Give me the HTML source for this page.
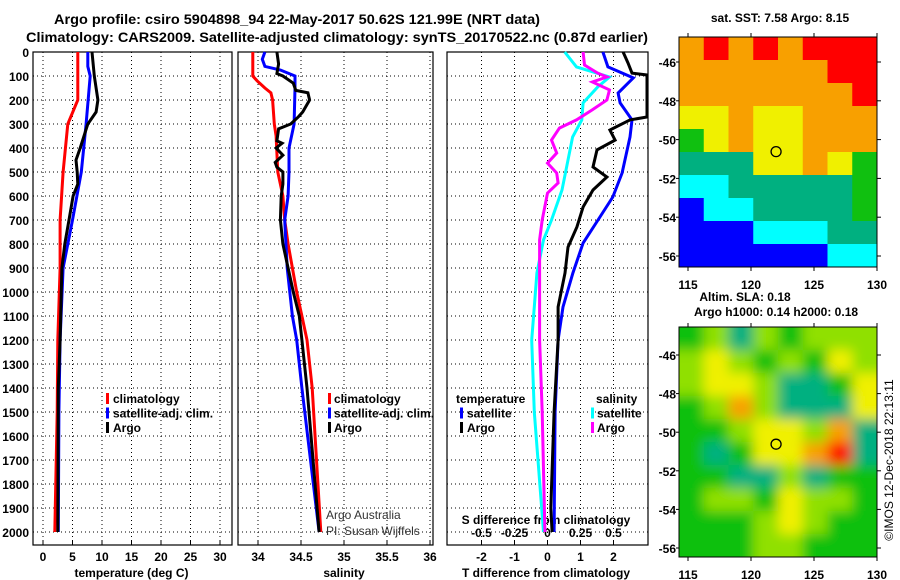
<!DOCTYPE html>
<html><head><meta charset="utf-8"><style>
html,body{margin:0;padding:0;background:#fff;}
svg{display:block;font-family:"Liberation Sans",sans-serif;}
.b{font-weight:bold;font-size:12px;}
</style></head><body>
<svg id="c" width="900" height="580" viewBox="0 0 900 580" xmlns="http://www.w3.org/2000/svg">
<defs>
<filter id="blur" x="0" y="0" width="100%" height="100%"><feGaussianBlur stdDeviation="6"/></filter>
<clipPath id="m2clip"><rect x="679" y="327" width="198" height="230"/></clipPath>
</defs>
<text x="297" y="24" text-anchor="middle" font-size="14" font-weight="bold" textLength="486" lengthAdjust="spacingAndGlyphs">Argo profile: csiro 5904898_94 22-May-2017 50.62S 121.99E (NRT data)</text>
<text x="337" y="42" text-anchor="middle" font-size="14" font-weight="bold" textLength="622" lengthAdjust="spacingAndGlyphs">Climatology: CARS2009. Satellite-adjusted climatology: synTS_20170522.nc (0.87d earlier)</text>
<g id="g"></g>
</svg>
<script>
// ---- depth axis
const depthTicks = [0,100,200,300,400,500,600,700,800,900,1000,1100,1200,1300,1400,1500,1600,1700,1800,1900,2000];
// ---- temperature panel data
const tTicks = [0,5,10,15,20,25,30];
const tClimD = [0,200,300,500,700,900,1200,1500,2000];
const tClimV = [5.9,5.9,4.2,3.4,2.9,2.9,2.5,2.4,2.0];
const tSatD = [0,60,100,300,500,700,900,1200,1500,2000];
const tSatV = [7.6,7.6,8.0,7.3,6.5,5.0,3.4,2.9,2.7,2.6];
const tArgoD = [0,100,200,250,300,400,450,500,550,600,700,800,900,1000,1200,1400,2000];
const tArgoV = [8.3,8.7,9.3,9.0,7.6,6.3,5.6,5.8,5.9,5.1,4.4,3.7,3.2,3.1,2.9,2.6,2.5];
// ---- salinity panel data
const sTicks = [34,34.5,35,35.5,36];
const sClimD = [0,100,120,150,170,200,300,350,500,600,700,800,900,1000,1100,1200,1400,2000];
const sClimV = [33.94,33.94,33.99,34.08,34.15,34.17,34.19,34.21,34.23,34.29,34.31,34.35,34.40,34.45,34.51,34.57,34.63,34.73];
const sSatD = [0,30,60,75,100,150,300,400,500,600,700,900,1100,1200,1400,2000];
const sSatV = [34.08,34.05,34.08,34.26,34.43,34.43,34.42,34.36,34.36,34.35,34.31,34.34,34.40,34.45,34.51,34.71];
const sArgoD = [0,50,90,100,130,160,170,200,250,270,300,320,370,380,400,430,460,480,500,550,600,700,800,900,1000,1100,1200,1400,2000];
const sArgoV = [34.22,34.24,34.22,34.29,34.41,34.44,34.58,34.60,34.52,34.47,34.38,34.24,34.22,34.28,34.21,34.29,34.20,34.22,34.29,34.29,34.27,34.26,34.29,34.35,34.41,34.48,34.51,34.57,34.71];
// ---- difference panel data
const dTicks = [-2,-1,0,1,2];
const dSTickLabels = ["-0.5","-0.25","0","0.25","0.5"];
const dTSatD = [0,62,108,171,212,283,354,504,604,700,796,921,1062,1200,1500,2000];
const dTSatV = [1.68,1.83,2.6,2.14,2.2,2.56,2.5,2.26,1.98,1.53,1.08,0.77,0.47,0.32,0.23,0.2];
const dTArgoD = [0,46,88,96,158,271,283,325,367,408,479,521,575,646,729,813,921,1062,1200,1500,1900,2000];
const dTArgoV = [2.29,2.44,2.56,3.05,3.05,3.05,2.5,1.89,2.05,1.5,1.38,1.8,1.38,1.08,0.89,0.62,0.53,0.32,0.32,0.2,0.1,0.14];
const dSSatD = [0,62,104,146,212,283,354,438,575,700,783,921,1062,1200,1500,2000];
const dSSatV = [0.13,0.22,0.47,0.38,0.27,0.26,0.19,0.16,0.11,0.03,-0.03,-0.08,-0.10,-0.12,-0.10,-0.03];
const dSArgoD = [0,54,88,104,125,158,200,241,283,317,367,421,463,504,546,588,700,783,1062,1200,1500,2000];
const dSArgoV = [0.27,0.28,0.38,0.45,0.34,0.47,0.45,0.34,0.22,0.09,0.03,0.07,0.0,0.07,0.08,0.0,-0.04,-0.06,-0.06,-0.06,-0.04,-0.02];
// ---- maps (category codes per coarse cell)
const lonTicks = [115,120,125,130];
const latTicks = [-46,-48,-50,-52,-54,-56];
const sstGrid = [
[6,7,6,7,6,7,7,7],
[6,6,6,6,6,6,7,7],
[6,6,6,6,6,6,6,7],
[5,5,6,5,5,6,6,6],
[4,5,6,5,5,6,6,6],
[3,3,3,5,5,6,5,4],
[2,2,3,3,3,3,3,4],
[1,2,2,3,3,3,3,4],
[1,1,1,2,2,2,3,3],
[1,1,1,1,1,1,2,2]];
const slaGrid = [
[4,8,3,8,4,8,8,8],
[8,5,8,4,8,4,5,8],
[8,5,5,8,3,3,4,5],
[4,8,6,8,3,3,3,5],
[4,4,8,5,5,8,6,3],
[4,3,4,5,5,6,7,3],
[4,4,3,3,8,3,4,4],
[4,8,8,4,5,8,8,4],
[4,4,4,8,5,8,4,4],
[4,4,4,8,8,4,4,4]];
const palette = ["#000000","#0000ff","#00ffff","#00b080","#10c010","#f0f000","#f8a000","#ff0000","#90e000"];

const NS="http://www.w3.org/2000/svg";
const G=document.getElementById('g');
function mk(t,a,parent){const e=document.createElementNS(NS,t);for(const k in a)e.setAttribute(k,a[k]);(parent||G).appendChild(e);return e;}
const pTop=52, pBot=545;
const yD=d=>52+d*0.24;
const panels=[{x0:33,x1:232},{x0:238,x1:433},{x0:447,x1:648}];
const xT=v=>43+v*5.9, xS=v=>258+(v-34)*86, xDT=v=>547.5+v*33, xDS=v=>547.5+v*132;

function frame(p,name){
  const r=mk('rect',{x:p.x0,y:pTop,width:p.x1-p.x0,height:pBot-pTop,fill:'none',stroke:'#000','stroke-width':1.2});
  
  
  depthTicks.forEach(d=>{
    const l=mk('line',{x1:p.x0,x2:p.x1,y1:yD(d),y2:yD(d),stroke:'#000','stroke-width':1,'stroke-dasharray':'1,3'});
    
    
  });
}
function vgrid(p,vals,fx,labels,name){
  vals.forEach((v,i)=>{
    const x=fx(v);
    const l=mk('line',{x1:x,x2:x,y1:pTop,y2:pBot,stroke:'#000','stroke-width':1,'stroke-dasharray':'1,3'});
    
    
    mk('line',{x1:x,x2:x,y1:pBot,y2:pBot-4,stroke:'#000'});
    const t=mk('text',{x:x,y:561,'text-anchor':'middle',class:'b'});
    t.textContent=labels?labels[i]:String(v);
    
    
  });
}
function line(D,V,fx,col,name,clipx){
  const pts=D.map((d,i)=>{let x=fx(V[i]);if(clipx)x=Math.min(x,clipx);return x.toFixed(1)+','+yD(d).toFixed(1);}).join(' ');
  const e=mk('polyline',{points:pts,fill:'none',stroke:col,'stroke-width':3,'stroke-linejoin':'miter'});
  
  
}
function txt(x,y,s,name,extra){
  const a=Object.assign({x:x,y:y,class:'b'},extra||{});
  const t=mk('text',a);t.textContent=s;
  
  
  return t;
}
function legendMark(x,y,col){
  const m=mk('rect',{x:x,y:y-10,width:3,height:11,fill:col});
  
  
}

depthTicks.forEach(d=>{
  txt(29,yD(d)+5,String(d),'depth-tick-label',{'text-anchor':'end'});
});
frame(panels[0],'temperature-panel');
frame(panels[1],'salinity-panel');
frame(panels[2],'difference-panel');
vgrid(panels[0],tTicks,xT,null,'temperature-tick-label');
vgrid(panels[1],sTicks,xS,null,'salinity-tick-label');
vgrid(panels[2],dTicks,xDT,null,'t-diff-tick-label');
dTicks.forEach((v,i)=>{txt(xDT(v),537,dSTickLabels[i],'s-diff-tick-label',{'text-anchor':'middle'});});
txt(xT(15),577,'temperature (deg C)','temperature-axis-title',{'text-anchor':'middle'});
txt(xS(35),577,'salinity','salinity-axis-title',{'text-anchor':'middle'});
txt(546,577,'T difference from climatology','t-diff-axis-title',{'text-anchor':'middle'});
txt(546,524,'S difference from climatology','s-diff-axis-title',{'text-anchor':'middle'});

line(tClimD,tClimV,xT,'#ff0000','temperature-climatology-line');
line(tSatD,tSatV,xT,'#0000ff','temperature-satellite-line');
line(tArgoD,tArgoV,xT,'#000000','temperature-argo-line');
line(sClimD,sClimV,xS,'#ff0000','salinity-climatology-line');
line(sSatD,sSatV,xS,'#0000ff','salinity-satellite-line');
line(sArgoD,sArgoV,xS,'#000000','salinity-argo-line');
line(dSSatD,dSSatV,xDS,'#00ffff','s-diff-satellite-line');
line(dSArgoD,dSArgoV,xDS,'#ff00ff','s-diff-argo-line');
line(dTSatD,dTSatV,xDT,'#0000ff','t-diff-satellite-line',647);
line(dTArgoD,dTArgoV,xDT,'#000000','t-diff-argo-line',647);

[['#ff0000','climatology'],['#0000ff','satellite-adj. clim.'],['#000000','Argo']].forEach((e,i)=>{
  const y=403+i*14.5;
  legendMark(106,y,e[0]);txt(113,y,e[1],'temperature-legend-entry');
  legendMark(328,y,e[0]);txt(334,y,e[1],'salinity-legend-entry');
});
txt(456,403,'temperature','t-legend-title');
txt(596,403,'salinity','s-legend-title');
[['#0000ff','#00ffff','satellite'],['#000000','#ff00ff','Argo']].forEach((e,i)=>{
  const y=417.5+i*14.5;
  legendMark(460,y,e[0]);txt(467,y,e[2],'t-diff-legend-entry');
  legendMark(591,y,e[1]);txt(597,y,e[2],'s-diff-legend-entry');
});
txt(326,519,'Argo Australia','credit-argo-australia',{class:'',fill:'#333','font-size':'12'});
txt(326,535,'PI: Susan Wijffels','credit-pi',{class:'',fill:'#333','font-size':'12'});

const mx0=679,mx1=877;
const xLon=l=>688+(l-115)*12.6;
function map(y0,grid,name,blur,latY){
  const rows=grid.length,cols=grid[0].length,cw=(mx1-mx0)/cols,rh=230/rows;
  const g=mk('g',blur?{'clip-path':'url(#m2clip)'}:{});
  
  
  const inner=blur?mk('g',{filter:'url(#blur)'},g):g;
  if(blur) mk('rect',{x:mx0-20,y:y0-20,width:240,height:270,fill:palette[4]},inner);
  grid.forEach((r,i)=>r.forEach((c,j)=>{
    const x=mx0+j*cw,y=y0+i*rh;
    const ex=blur&&(j==0)?20:0, ey=blur&&(i==0)?20:0, ex2=blur&&(j==cols-1)?20:0, ey2=blur&&(i==rows-1)?20:0;
    const e=mk('rect',{x:x-ex,y:y-ey,width:cw+0.5+ex+ex2,height:rh+0.5+ey+ey2,fill:palette[c]},inner);
    
    
  }));
  mk('rect',{x:mx0,y:y0,width:mx1-mx0,height:230,fill:'none',stroke:'#000','stroke-width':1});
  lonTicks.forEach(l=>{
    mk('line',{x1:xLon(l),x2:xLon(l),y1:y0+230,y2:y0+234,stroke:'#000'});
    mk('line',{x1:xLon(l),x2:xLon(l),y1:y0,y2:y0-4,stroke:'#000'});
    txt(xLon(l),y0+252,String(l),'lon-tick-label',{'text-anchor':'middle'});
  });
  latTicks.forEach(la=>{
    const y=latY(la);
    mk('line',{x1:mx1,x2:mx1+4,y1:y,y2:y,stroke:'#000'});
    mk('line',{x1:mx0,x2:mx0-3,y1:y,y2:y,stroke:'#000'});
    txt(676,y+5,String(la),'lat-tick-label',{'text-anchor':'end'});
  });
  const c=mk('circle',{cx:xLon(121.99),cy:latY(-50.62),r:5,fill:'none',stroke:'#000','stroke-width':1.3});
  
  
}
map(37,sstGrid,'sst-map',false,la=>62+(-46-la)*19.4);
map(327,slaGrid,'sla-map',true,la=>355+(-46-la)*19.3);
txt(780,22,'sat. SST: 7.58 Argo: 8.15','sst-map-title',{'text-anchor':'middle'});
txt(745,301,'Altim. SLA: 0.18','sla-map-title',{'text-anchor':'middle'});
txt(776,316,'Argo h1000: 0.14 h2000: 0.18','sla-map-subtitle',{'text-anchor':'middle'});
txt(893,460,'©IMOS 12-Dec-2018 22:13:11','imos-credit',{'text-anchor':'middle',class:'',fill:'#000','font-size':'12',transform:'rotate(-90 893 460)'});
</script>
</body></html>
